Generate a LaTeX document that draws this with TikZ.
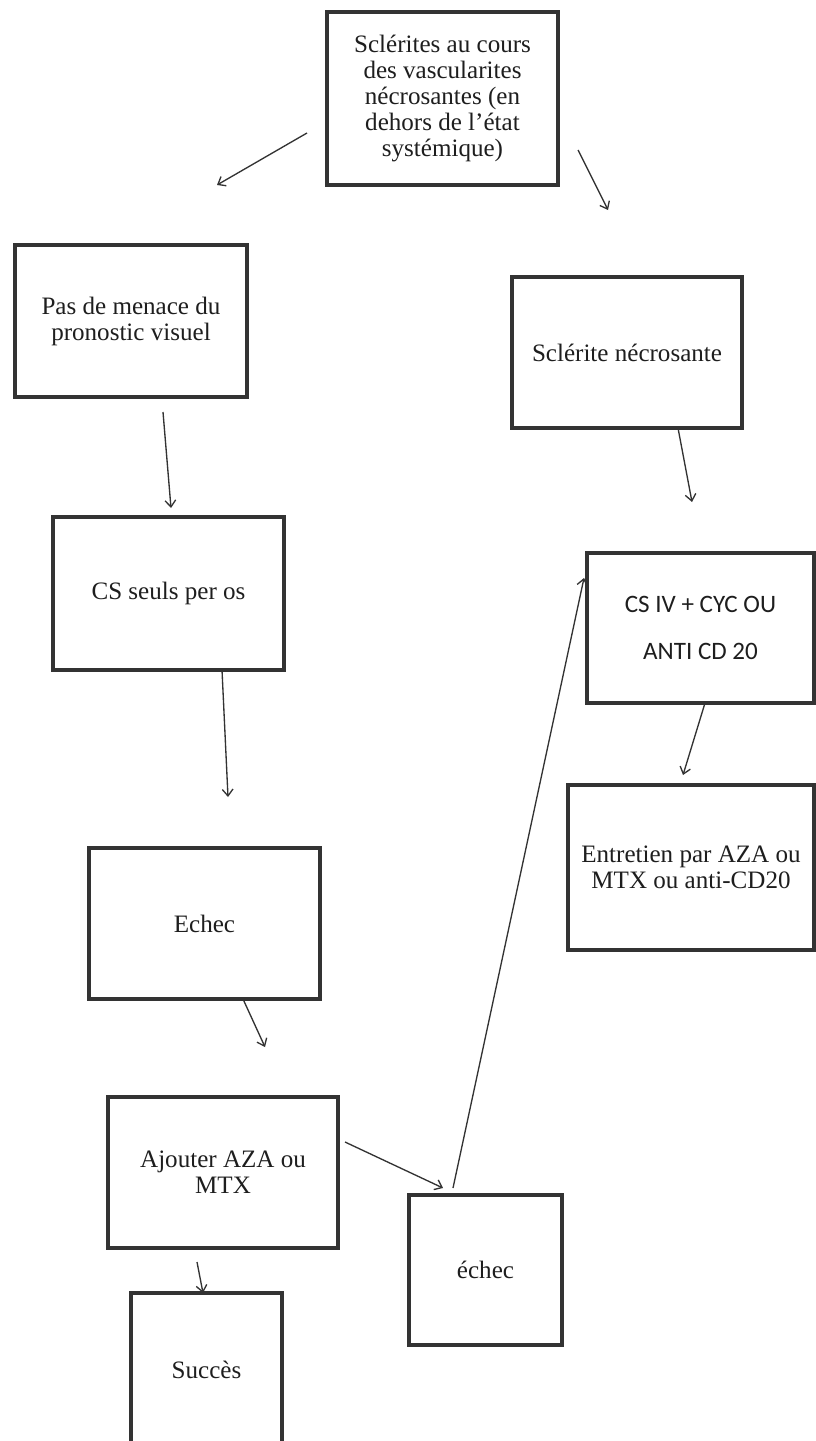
\documentclass[tikz,border=0pt]{standalone}
\usepackage{fontspec}
\setmainfont{Liberation Serif}
\newfontfamily\calib{Carlito}
\usetikzlibrary{arrows.meta}
\definecolor{boxgray}{HTML}{333333}
\definecolor{txtgray}{HTML}{1E1E1E}
\tikzset{
  box/.style={draw=boxgray, line width=2.4pt, align=center, inner sep=0pt,
    text=txtgray, font=\fontsize{18.8}{19.5}\selectfont},
  arr/.style={-{Straight Barb[length=5pt,width=8pt]}, draw=boxgray, line width=1pt}
}

\begin{document}
\begin{tikzpicture}[x=0.75pt,y=-0.75pt]
   \useasboundingbox (0,0) rectangle (816,1441);
   % boxes
   \node[box, minimum width=173.25pt, minimum height=129.75pt] (top) at (442.5,98.5)
      {Sclérites au cours\\des vascularites\\nécrosantes (en\\dehors de l’état\\systémique)};
   \node[box, minimum width=174pt, minimum height=114pt] (pas) at (131,321)
      {Pas de menace du\\pronostic visuel};
   \node[box, minimum width=173.25pt, minimum height=114.75pt] (cs) at (168.5,593.5)
      {CS seuls per os};
   \node[box, minimum width=173.25pt, minimum height=113.25pt] (echec) at (204.5,923.5)
      {Echec};
   \node[box, minimum width=172.5pt, minimum height=113.25pt] (ajout) at (223,1172.5)
      {Ajouter AZA ou\\MTX};
   \node[box, minimum width=113.25pt, minimum height=115.5pt] (succes) at (206.5,1370)
      {Succès};
   \node[box, minimum width=172.5pt, minimum height=113.25pt] (necro) at (627,352.5)
      {Sclérite nécrosante};
   \node[box, minimum width=170.25pt, minimum height=112.5pt,
         font=\calib\fontsize{18.8}{35}\selectfont] (csiv) at (700.5,628)
      {CS IV + CYC OU\\ANTI CD 20};
   \node[box, minimum width=184.5pt, minimum height=123.75pt] (entretien) at (691,867.5)
      {Entretien par AZA ou\\MTX ou anti-CD20};
   \node[box, minimum width=114.75pt, minimum height=112.5pt] (echecb) at (485.5,1270)
      {échec};
   % arrow ends
   \coordinate (a1) at (307,133);   \coordinate (b1) at (217,185);
   \coordinate (a2) at (578,150);   \coordinate (b2) at (608,210);
   \coordinate (a3) at (163,412);   \coordinate (b3) at (171,508);
   \coordinate (a4) at (678,428);   \coordinate (b4) at (692,502);
   \coordinate (a5) at (222,670);   \coordinate (b5) at (228,797);
   \coordinate (a6) at (705,703);   \coordinate (b6) at (683,775);
   \coordinate (a7) at (243,999);   \coordinate (b7) at (265,1047);
   \coordinate (a8) at (345,1142);  \coordinate (b8) at (443,1188);
   \coordinate (a9) at (197,1262);  \coordinate (b9) at (203,1293);
   \coordinate (a10) at (453,1188); \coordinate (b10) at (584,578);
   % arrows
   \draw[arr] (a1) -- (b1);
   \draw[arr] (a2) -- (b2);
   \draw[arr] (a3) -- (b3);
   \draw[arr] (a4) -- (b4);
   \draw[arr] (a5) -- (b5);
   \draw[arr] (a6) -- (b6);
   \draw[arr] (a7) -- (b7);
   \draw[arr] (a8) -- (b8);
   \draw[arr] (a9) -- (b9);
   \draw[arr] (a10) -- (b10);
\end{tikzpicture}
\end{document}
